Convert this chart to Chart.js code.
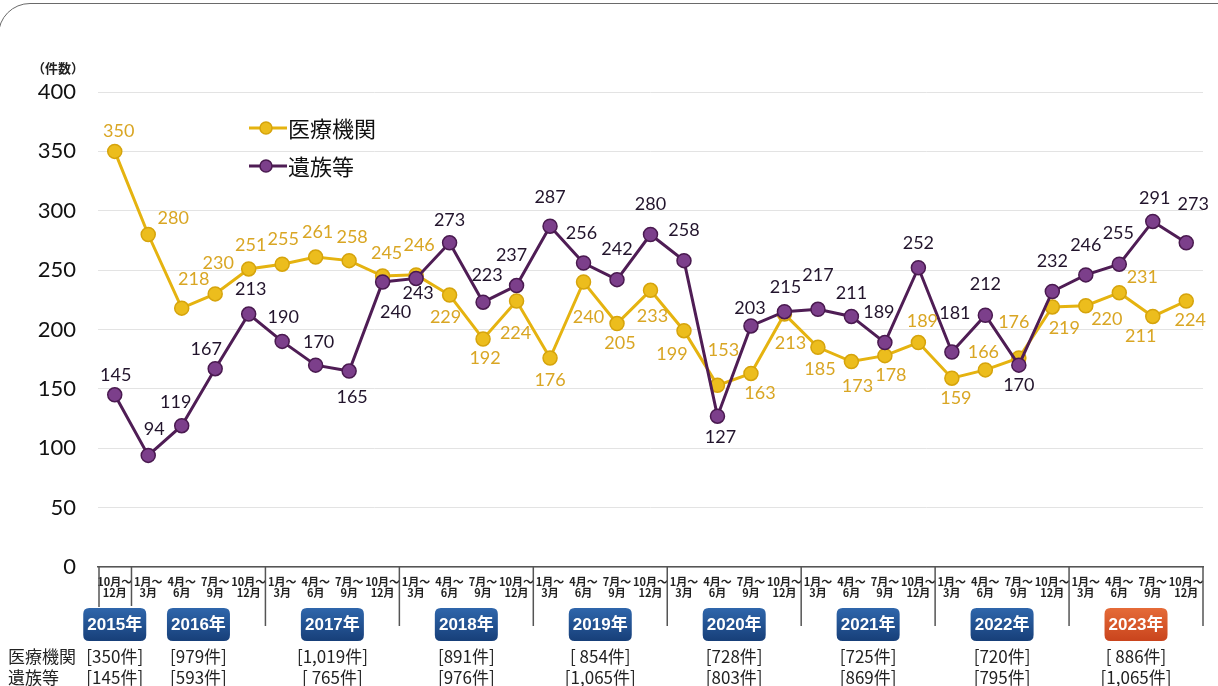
<!DOCTYPE html>
<html lang="ja">
<head>
<meta charset="utf-8">
<title>医療機関・遺族等 件数推移</title>
<script src="https://cdn.jsdelivr.net/npm/chart.js@4.4.1/dist/chart.umd.min.js"></script>
<style>
  html, body { margin: 0; padding: 0; background: #ffffff; overflow: hidden; }
  #wrap { position: relative; width: 1218px; height: 686px; }
  #frame { position: absolute; left: -2px; top: 3px; width: 1300px; height: 900px;
           border: 1.5px solid #6a6a6a; border-radius: 32px; box-sizing: border-box; pointer-events: none; }
  canvas { position: absolute; left: 0; top: 0; }
</style>
</head>
<body>
<div id="wrap">
  <div id="frame"></div>
  <canvas id="c" width="1218" height="686"></canvas>
</div>
<script>
// ---------- data ----------
const years = ['2015年', '2016年', '2017年', '2018年', '2019年', '2020年', '2021年', '2022年', '2023年'];
const quartersPerYear = [1, 4, 4, 4, 4, 4, 4, 4, 4];
const quarterStarts = ['1月～', '4月～', '7月～', '10月～'];
const quarterEnds = ['3月', '6月', '9月', '12月'];
const firstQuarterIndex = 3; // 2015 starts at 10月～12月

const medical = [350,
  280, 218, 230, 251,
  255, 261, 258, 245,
  246, 229, 192, 224,
  176, 240, 205, 233,
  199, 153, 163, 213,
  185, 173, 178, 189,
  159, 166, 176, 219,
  220, 231, 211, 224];

const families = [145,
  94, 119, 167, 213,
  190, 170, 165, 240,
  243, 273, 223, 237,
  287, 256, 242, 280,
  258, 127, 203, 215,
  217, 211, 189, 252,
  181, 212, 170, 232,
  246, 255, 291, 273];

const medicalTotals = ['[350件]', '[979件]', '[1,019件]', '[891件]', '[ 854件]', '[728件]', '[725件]', '[720件]', '[ 886件]'];
const familyTotals  = ['[145件]', '[593件]', '[ 765件]', '[976件]', '[1,065件]', '[803件]', '[869件]', '[795件]', '[1,065件]'];

const seriesNames = ['医療機関', '遺族等'];
const rowNames = ['医療機関', '遺族等'];
const yTicks = [0, 50, 100, 150, 200, 250, 300, 350, 400];
const unitLabel = '（件数）';

// ---------- label placement (pixel offsets from each point, style only) ----------
const medicalLabelOffsets = [[4,-20],
  [25,-16],[12,-29],[3,-31],[2,-24],
  [1,-25],[2,-25],[3,-23],[4,-23],
  [3,-30],[-4,22],[2,19],[-1,32],
  [0,22],[5,35],[3,20],[2,26],
  [-12,23],[6,-35],[9,20],[6,29],
  [2,22],[6,25],[6,20],[4,-21],
  [4,20],[-2,-18],[-5,-36],[12,21],
  [21,13],[23,-16],[-12,20],[4,19]];
const familyLabelOffsets = [[1,-20],
  [6,-26],[-6,-24],[-9,-20],[2,-25],
  [1,-24],[3,-23],[3,26],[13,30],
  [2,15],[0,-23],[4,-27],[-5,-30],
  [0,-29],[-2,-30],[0,-30],[0,-30],
  [0,-30],[3,21],[-1,-18],[1,-25],
  [0,-34],[0,-23],[-6,-30],[0,-25],
  [3,-39],[0,-31],[0,20],[0,-30],
  [0,-30],[-1,-31],[2,-23],[7,-39]];

// ---------- derived categories ----------
const tickLabels = [];
const yearIndexRanges = [];
{
  let idx = 0;
  years.forEach((y, yi) => {
    const start = idx;
    for (let q = 0; q < quartersPerYear[yi]; q++) {
      const qi = yi === 0 ? firstQuarterIndex + q : q;
      tickLabels.push([quarterStarts[qi], quarterEnds[qi]]);
      idx++;
    }
    yearIndexRanges.push([start, idx - 1]);
  });
}

const COLORS = {
  medLine: '#e5b310', medFill: '#ecbd1d', medBorder: '#d6a40c', medText: '#d9a624',
  famLine: '#4f1d55', famFill: '#7c3f8b', famBorder: '#4a1a50', famText: '#22142c',
  blueTop: '#2f66ab', blueBot: '#173f79', orangeTop: '#e56b38', orangeBot: '#c9441d'
};

function roundRect(ctx, x, y, w, h, r) {
  ctx.beginPath();
  ctx.moveTo(x + r, y);
  ctx.lineTo(x + w - r, y);
  ctx.quadraticCurveTo(x + w, y, x + w, y + r);
  ctx.lineTo(x + w, y + h - r);
  ctx.quadraticCurveTo(x + w, y + h, x + w - r, y + h);
  ctx.lineTo(x + r, y + h);
  ctx.quadraticCurveTo(x, y + h, x, y + h - r);
  ctx.lineTo(x, y + r);
  ctx.quadraticCurveTo(x, y, x + r, y);
  ctx.closePath();
}

const customPlugin = {
  id: 'custom',
  afterDatasetsDraw(chart) {
    const ctx = chart.ctx;
    ctx.save();
    ctx.font = '18px Lato, "Noto Sans"';
    ctx.textAlign = 'center';
    ctx.textBaseline = 'middle';
    const sets = [
      { meta: chart.getDatasetMeta(0), vals: medical, off: medicalLabelOffsets, color: COLORS.medText },
      { meta: chart.getDatasetMeta(1), vals: families, off: familyLabelOffsets, color: COLORS.famText }
    ];
    sets.forEach(s => {
      ctx.fillStyle = s.color;
      s.meta.data.forEach((pt, i) => {
        const o = s.off[i];
        ctx.fillText(String(s.vals[i]), pt.x + o[0], pt.y + o[1]);
      });
    });
    ctx.restore();
  },
  afterDraw(chart) {
    const ctx = chart.ctx;
    const xs = chart.scales.x;
    const area = chart.chartArea;
    ctx.save();

    // unit label
    ctx.fillStyle = '#222';
    ctx.font = 'bold 13px "Noto Sans CJK JP"';
    ctx.textAlign = 'left';
    ctx.textBaseline = 'middle';
    ctx.fillText(unitLabel, 32, 68);

    // legend
    const legendItems = [
      { name: seriesNames[0], line: COLORS.medLine, fill: COLORS.medFill, border: COLORS.medBorder, y: 128 },
      { name: seriesNames[1], line: COLORS.famLine, fill: COLORS.famFill, border: COLORS.famBorder, y: 166 }
    ];
    legendItems.forEach(it => {
      ctx.strokeStyle = it.line;
      ctx.lineWidth = 3;
      ctx.beginPath();
      ctx.moveTo(249, it.y);
      ctx.lineTo(287, it.y);
      ctx.stroke();
      ctx.beginPath();
      ctx.arc(266, it.y, 6, 0, Math.PI * 2);
      ctx.fillStyle = it.fill;
      ctx.fill();
      ctx.lineWidth = 1.5;
      ctx.strokeStyle = it.border;
      ctx.stroke();
      ctx.fillStyle = '#111';
      ctx.font = '22px "Noto Sans CJK JP"';
      ctx.textAlign = 'left';
      ctx.textBaseline = 'middle';
      ctx.fillText(it.name, 288, it.y + 1);
    });

    // axis box separators
    ctx.strokeStyle = '#555';
    ctx.lineWidth = 1.5;
    const base = area.bottom;
    ctx.beginPath();
    ctx.moveTo(area.left + 1, base);
    ctx.lineTo(area.left + 1, 607);
    yearIndexRanges.forEach((r, yi) => {
      if (yi === yearIndexRanges.length - 1) return;
      const bx = (xs.getPixelForValue(r[1]) + xs.getPixelForValue(r[1] + 1)) / 2;
      ctx.moveTo(bx, base);
      ctx.lineTo(bx, yi === 0 ? 606 : 626);
    });
    ctx.moveTo(area.right, base);
    ctx.lineTo(area.right, 626);
    ctx.stroke();

    // year badges and totals table
    yearIndexRanges.forEach((r, yi) => {
      const cx = (xs.getPixelForValue(r[0]) + xs.getPixelForValue(r[1])) / 2;
      const w = 63, h = 33, top = 608;
      const last = yi === yearIndexRanges.length - 1;
      const g = ctx.createLinearGradient(0, top, 0, top + h);
      g.addColorStop(0, last ? COLORS.orangeTop : COLORS.blueTop);
      g.addColorStop(1, last ? COLORS.orangeBot : COLORS.blueBot);
      roundRect(ctx, cx - w / 2, top, w, h, 6);
      ctx.fillStyle = g;
      ctx.fill();
      ctx.fillStyle = '#ffffff';
      ctx.font = 'bold 17px "Liberation Sans", "Noto Sans CJK JP"';
      ctx.textAlign = 'center';
      ctx.textBaseline = 'middle';
      ctx.fillText(years[yi], cx, top + h / 2 + 1);

      ctx.fillStyle = '#222';
      ctx.font = '17px "Noto Sans CJK JP"';
      ctx.fillText(medicalTotals[yi], cx, 657);
      ctx.fillText(familyTotals[yi], cx, 678);
    });

    ctx.fillStyle = '#222';
    ctx.font = '17px "Noto Sans CJK JP"';
    ctx.textAlign = 'left';
    ctx.textBaseline = 'middle';
    ctx.fillText(rowNames[0], 8, 657);
    ctx.fillText(rowNames[1], 8, 678);

    ctx.restore();
  }
};

new Chart(document.getElementById('c'), {
  type: 'line',
  data: {
    labels: tickLabels,
    datasets: [
      {
        label: seriesNames[0],
        data: medical,
        borderColor: COLORS.medLine,
        borderWidth: 3,
        pointRadius: 7,
        pointBackgroundColor: COLORS.medFill,
        pointBorderColor: COLORS.medBorder,
        pointBorderWidth: 1.5,
        tension: 0,
        order: 2
      },
      {
        label: seriesNames[1],
        data: families,
        borderColor: COLORS.famLine,
        borderWidth: 3,
        pointRadius: 7,
        pointBackgroundColor: COLORS.famFill,
        pointBorderColor: COLORS.famBorder,
        pointBorderWidth: 1.5,
        tension: 0,
        order: 1
      }
    ]
  },
  options: {
    responsive: false,
    animation: false,
    devicePixelRatio: 1,
    layout: { padding: { left: 0, right: 15, top: 92, bottom: 0 } },
    plugins: { legend: { display: false }, tooltip: { enabled: false } },
    scales: {
      x: {
        type: 'category',
        offset: true,
        grid: { display: false, drawTicks: false },
        border: { display: true, color: '#555', width: 1.5 },
        ticks: {
          autoSkip: false,
          maxRotation: 0,
          minRotation: 0,
          padding: 9,
          color: '#222',
          font: { family: '"Noto Sans CJK JP"', size: 11, weight: 'bold', lineHeight: 1.0 }
        },
        afterFit(scale) { scale.height = 119; }
      },
      y: {
        min: 0,
        max: 400,
        afterBuildTicks(scale) { scale.ticks = yTicks.map(v => ({ value: v })); },
        grid: { color: '#e3e3e3', lineWidth: 1, drawTicks: false },
        border: { display: false },
        ticks: {
          padding: 22,
          color: '#111',
          font: { family: 'Lato, "Noto Sans"', size: 22 }
        },
        afterFit(scale) { scale.width = 98; }
      }
    }
  },
  plugins: [customPlugin]
});
</script>
</body>
</html>
